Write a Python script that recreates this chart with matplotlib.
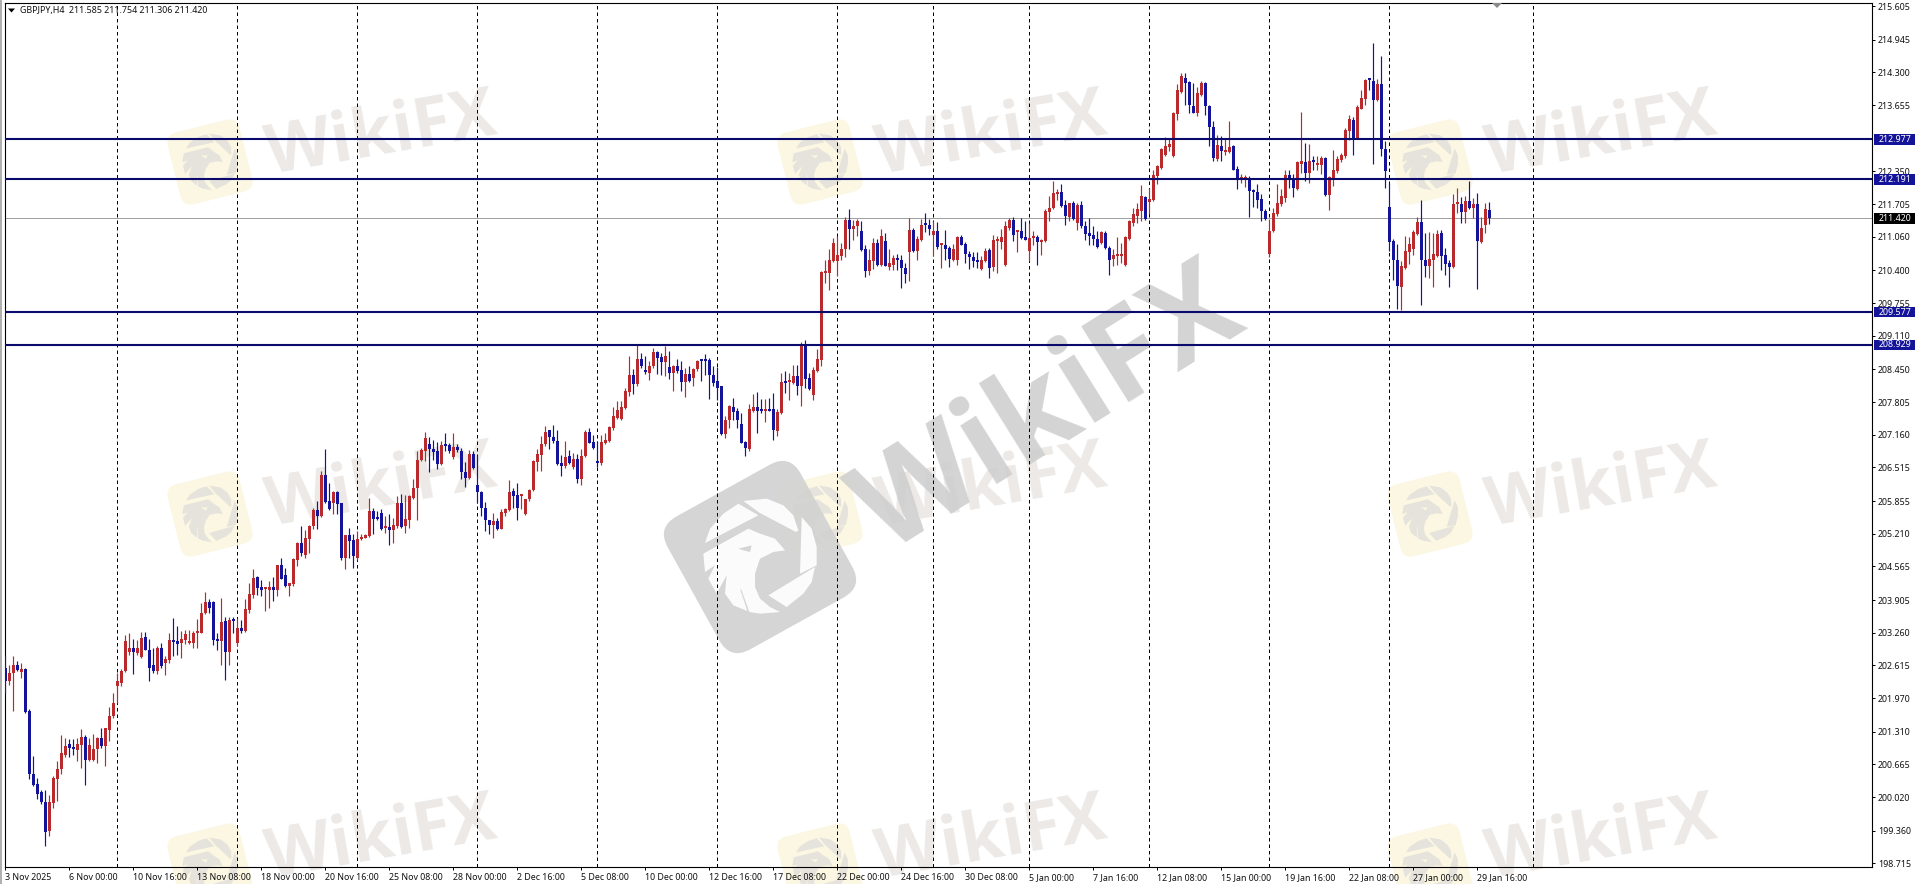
import matplotlib
matplotlib.use("Agg")
import matplotlib.pyplot as plt
from matplotlib.patches import FancyBboxPatch, Polygon, Rectangle
from matplotlib.transforms import Affine2D, blended_transform_factory

# GBPJPY H4 candles, ten bars per row
opens = [
    202.57,202.31,202.47,202.63,202.48,202.55,201.72,200.48,200.29,200.13,
    199.92,199.35,199.91,200.38,200.57,200.86,201.06,200.98,200.96,201.04,
    201.21,200.76,200.76,200.97,201.18,201.03,201.35,201.62,202.21,202.27,
    202.50,202.88,202.96,202.87,202.79,203.17,202.93,202.62,202.50,202.96,
    202.67,202.73,203.10,203.09,203.05,203.11,203.05,203.05,203.25,203.26,
    203.64,203.87,203.87,203.13,203.09,203.49,202.88,203.52,203.06,203.36,
    203.29,203.71,204.01,204.35,204.16,204.13,204.10,204.16,204.10,204.60,
    204.40,204.19,204.23,204.70,205.02,204.80,205.10,205.36,205.67,205.56,
    206.36,205.85,205.82,206.03,205.81,204.74,205.18,205.08,204.74,205.10,
    205.13,205.16,205.65,205.52,205.61,205.33,205.35,205.28,205.36,205.81,
    205.37,205.49,205.92,206.11,206.66,206.84,206.97,206.88,206.84,206.59,
    206.95,206.95,206.73,206.92,206.84,206.42,206.31,206.78,206.18,206.03,
    205.72,205.49,205.39,205.46,205.31,205.61,205.67,206.05,205.98,205.95,
    205.59,205.89,206.07,206.62,206.77,206.97,207.25,207.12,207.04,206.61,
    206.54,206.75,206.52,206.69,206.29,206.74,207.21,207.01,206.63,206.60,
    207.00,207.03,207.30,207.49,207.47,207.69,208.00,208.33,208.15,208.66,
    208.43,208.38,208.51,208.79,208.69,208.59,208.50,208.38,208.52,208.43,
    208.20,208.35,208.28,208.45,208.63,208.63,208.64,208.33,208.21,208.12,
    207.17,207.45,207.71,207.62,207.38,207.02,206.88,207.63,207.71,207.64,
    207.63,207.66,207.66,207.23,207.58,208.21,208.20,208.17,208.31,208.13,
    208.94,208.27,207.95,208.41,208.64,210.35,210.35,210.58,210.59,210.68,
    210.81,211.39,211.22,211.27,211.18,210.81,210.38,210.58,210.93,210.51,
    210.97,210.47,210.51,210.65,210.61,210.45,210.76,211.19,210.78,211.00,
    211.32,211.30,211.10,211.18,210.89,210.89,210.84,210.61,210.61,211.06,
    210.91,210.73,210.66,210.59,210.42,210.58,210.80,210.47,210.97,210.95,
    210.51,211.24,211.39,211.15,211.17,211.06,210.78,211.04,211.06,210.96,
    210.97,211.54,211.63,211.91,211.95,211.68,211.45,211.73,211.33,211.68,
    211.27,211.14,211.09,211.02,210.93,211.14,210.84,210.62,210.68,210.68,
    210.51,211.02,211.34,211.47,211.56,211.85,211.74,211.78,212.25,212.42,
    212.68,212.83,212.65,213.47,213.91,214.19,214.10,213.64,213.49,213.86,
    214.09,213.64,213.22,212.59,212.84,212.73,212.73,212.84,212.40,212.20,
    212.20,212.22,211.98,211.95,211.81,211.57,210.73,211.17,211.50,211.70,
    211.83,212.27,212.20,212.00,212.50,212.53,212.31,212.55,212.48,212.48,
    212.61,211.88,212.22,212.35,212.57,212.65,213.14,213.36,213.01,213.58,
    213.78,214.16,214.12,213.76,214.06,212.79,211.65,210.97,210.61,210.07,
    210.45,210.75,210.81,211.12,211.35,210.61,210.48,210.61,210.69,211.14,
    210.71,210.55,210.47,211.70,211.70,211.54,211.76,211.63,211.70,210.95,211.30,211.585,
]
highs = [
    202.80,202.63,202.81,202.70,202.67,202.57,201.76,200.84,200.40,200.17,
    200.17,200.07,200.44,200.73,201.24,201.19,201.17,201.16,201.19,201.37,
    201.24,201.19,201.26,201.21,201.39,201.39,201.80,202.08,202.47,202.54,
    203.21,203.26,203.13,203.11,203.28,203.27,203.13,202.96,203.00,203.06,
    202.80,203.26,203.55,203.40,203.29,203.31,203.31,203.29,203.53,203.84,
    204.06,203.93,203.88,203.26,203.95,203.57,203.57,203.57,203.55,203.52,
    203.92,204.24,204.52,204.37,204.30,204.16,204.28,204.36,204.60,204.74,
    204.54,204.24,204.74,205.04,205.36,205.29,205.39,205.72,205.85,206.44,
    206.87,206.21,206.05,206.05,205.82,205.18,205.33,205.20,205.26,205.20,
    205.20,205.92,205.72,205.65,205.70,205.56,205.59,205.52,205.96,206.00,
    205.98,205.98,206.28,206.84,206.90,207.21,207.12,207.05,207.01,207.03,
    207.20,207.00,207.20,206.97,206.90,206.62,206.86,206.84,206.77,206.05,
    205.83,205.49,205.62,205.52,205.69,205.72,206.27,206.11,206.20,205.98,
    205.89,206.09,206.67,206.87,207.13,207.34,207.26,207.36,207.26,206.77,
    207.03,206.86,206.80,206.79,206.87,207.26,207.30,207.15,207.03,207.16,
    207.20,207.33,207.71,207.82,207.82,208.08,208.72,208.45,208.92,208.77,
    208.71,208.61,208.87,208.81,208.77,208.90,208.81,208.54,208.66,208.61,
    208.48,208.51,208.48,208.63,208.63,208.75,208.67,208.51,208.50,208.13,
    207.53,207.74,207.89,207.69,207.59,207.03,207.76,207.97,208.00,207.87,
    207.87,207.89,207.98,207.67,208.38,208.41,208.37,208.54,208.54,208.98,
    209.02,208.38,208.50,208.85,210.38,210.61,210.81,211.04,211.07,210.93,
    211.45,211.61,211.39,211.40,211.37,210.89,210.82,211.04,211.01,211.22,
    211.14,210.81,210.71,210.73,210.71,210.55,211.43,211.24,211.07,211.41,
    211.52,211.41,211.37,211.35,210.91,211.19,210.87,210.91,211.07,211.10,
    210.95,210.78,210.76,210.76,210.68,210.84,210.84,211.09,211.07,211.22,
    211.37,211.43,211.45,211.20,211.43,211.37,211.33,211.17,211.10,211.02,
    211.61,211.86,212.15,212.00,212.09,211.79,211.73,211.76,211.73,211.76,
    211.37,211.43,211.27,211.17,211.17,211.17,210.87,210.82,211.06,210.94,
    211.07,211.39,211.63,211.73,212.07,211.86,212.02,212.37,212.48,212.81,
    213.03,213.01,213.51,214.06,214.29,214.29,214.12,214.09,214.01,214.12,
    214.10,213.66,213.34,213.07,213.05,213.01,213.34,212.86,212.46,212.30,
    212.28,212.25,212.00,212.09,211.91,211.60,211.40,211.63,212.09,212.00,
    212.37,212.37,212.29,212.55,213.51,212.91,212.88,212.65,212.66,212.65,
    212.63,212.25,212.77,212.65,212.70,213.20,213.45,213.42,213.66,213.96,
    214.16,214.17,214.87,214.16,214.63,212.94,212.12,211.02,210.91,210.58,
    211.07,211.06,211.20,211.45,211.78,211.14,211.15,211.14,211.20,211.19,
    210.84,210.61,211.91,212.02,211.85,211.86,212.15,211.83,211.92,211.45,211.73,211.754,
]
lows = [
    202.08,202.24,201.72,202.50,202.37,201.68,200.37,200.24,199.98,199.88,
    199.06,199.25,199.81,199.94,200.47,200.82,200.82,200.86,200.73,200.60,
    200.27,200.73,200.73,200.70,200.99,200.63,201.12,201.58,201.88,202.21,
    202.48,202.83,202.44,202.83,202.77,202.92,202.31,202.47,202.44,202.57,
    202.43,202.67,202.80,202.83,202.77,203.03,203.03,202.96,202.96,203.26,
    203.62,203.65,203.01,202.93,202.62,202.33,202.63,203.26,203.00,203.26,
    203.28,203.65,203.95,204.01,203.98,203.69,203.75,203.88,203.98,204.31,
    204.17,203.98,204.19,204.57,204.77,204.74,204.83,205.30,205.30,205.54,
    205.82,205.67,205.59,205.59,204.70,204.51,204.74,204.54,204.70,205.08,
    205.12,205.15,205.20,205.49,205.28,205.23,204.98,205.02,205.33,205.33,
    205.23,205.33,205.89,205.49,206.64,206.64,206.42,206.67,206.48,206.57,
    206.84,206.80,206.69,206.83,206.28,206.13,206.29,206.49,205.82,205.56,
    205.26,205.20,205.13,205.28,205.30,205.56,205.65,205.72,205.48,205.69,
    205.57,205.85,206.05,206.44,206.44,206.93,206.87,206.99,206.57,206.34,
    206.51,206.59,206.48,206.20,206.18,206.72,206.99,206.88,206.53,206.57,
    206.97,207.01,207.26,207.47,207.46,207.66,207.93,207.97,208.13,208.48,
    208.35,208.23,208.48,208.35,208.33,208.31,208.26,208.02,208.38,208.02,
    207.91,208.20,208.12,208.41,208.22,208.33,207.87,208.12,207.85,207.15,
    207.10,207.30,207.46,207.30,206.99,206.75,206.84,207.60,207.20,207.59,
    207.41,207.63,207.05,207.13,207.56,207.99,207.85,208.15,207.95,207.72,
    208.08,208.05,207.85,208.39,208.52,210.15,210.02,210.56,210.28,210.61,
    210.66,210.82,211.00,211.07,210.78,210.27,210.30,210.43,210.49,210.49,
    210.48,210.40,210.40,210.41,210.05,210.14,210.19,210.76,210.61,210.97,
    211.15,211.10,210.68,210.81,210.45,210.61,210.47,210.58,210.51,210.89,
    210.55,210.43,210.47,210.45,210.40,210.56,210.25,210.38,210.35,210.82,
    210.48,211.20,210.97,210.76,211.02,210.99,210.58,210.90,210.51,210.71,
    210.95,211.37,211.60,211.79,211.65,211.30,211.37,211.39,211.20,211.24,
    211.00,210.89,210.89,210.84,210.91,210.81,210.30,210.48,210.51,210.55,
    210.49,211.00,211.28,211.34,211.37,211.39,211.50,211.76,212.09,212.40,
    212.65,212.75,212.63,213.36,213.90,213.66,213.50,213.49,213.43,213.84,
    213.45,212.84,212.55,212.55,212.55,212.68,212.71,212.37,212.00,212.12,
    212.04,211.45,211.65,211.63,211.37,211.39,210.67,211.15,211.47,211.66,
    211.74,212.02,211.85,211.99,212.32,212.15,212.11,212.37,212.37,212.29,
    211.87,211.58,212.06,212.32,212.53,212.61,212.96,212.68,212.99,213.57,
    213.66,213.96,212.50,213.73,212.65,212.02,210.78,210.20,209.63,209.61,
    210.42,210.53,210.71,211.10,209.72,210.27,210.25,210.07,210.67,210.40,
    210.30,210.07,210.45,211.52,211.33,211.33,211.60,211.43,210.03,210.93,211.14,211.306,
]
closes = [
    202.31,202.47,202.63,202.52,202.55,201.70,200.47,200.27,200.09,199.92,
    199.33,199.92,200.40,200.57,200.89,201.03,200.99,200.97,201.06,201.21,
    200.76,201.04,200.97,201.18,201.03,201.38,201.63,201.88,202.31,202.50,
    203.09,202.96,202.88,202.96,203.16,202.93,202.57,202.50,202.96,202.60,
    202.75,203.11,203.07,203.04,203.13,203.23,203.07,203.26,203.28,203.65,
    203.86,203.75,203.11,203.09,203.48,202.88,203.52,203.49,203.36,203.29,
    203.72,204.03,204.34,204.15,204.10,204.15,204.16,204.10,204.59,204.32,
    204.19,204.24,204.72,205.03,204.83,205.13,205.37,205.67,205.56,206.36,
    205.83,205.69,206.03,205.79,204.74,205.18,205.06,204.77,205.11,205.15,
    205.18,205.65,205.51,205.50,205.31,205.36,205.28,205.39,205.81,205.35,
    205.51,205.95,206.11,206.67,206.86,207.10,206.87,206.82,206.59,206.95,
    206.93,206.84,206.92,206.86,206.42,206.31,206.78,206.51,206.03,205.72,
    205.48,205.39,205.46,205.30,205.63,205.69,206.04,205.96,205.72,205.97,
    205.89,206.08,206.64,206.79,206.97,207.21,207.12,207.03,206.59,206.54,
    206.73,206.61,206.69,206.29,206.75,207.21,207.00,206.90,206.60,207.01,
    207.05,207.31,207.53,207.64,207.71,208.02,208.33,208.15,208.66,208.51,
    208.40,208.52,208.79,208.68,208.59,208.72,208.37,208.52,208.41,208.20,
    208.35,208.22,208.46,208.62,208.61,208.62,208.33,208.18,208.08,207.17,
    207.46,207.72,207.60,207.45,207.00,206.89,207.66,207.71,207.63,207.62,
    207.66,207.63,207.25,207.60,208.20,208.18,208.22,208.31,208.13,208.94,
    208.26,208.06,208.43,208.66,210.36,210.38,210.61,210.93,210.71,210.82,
    211.39,211.22,211.28,211.37,210.79,210.38,210.60,210.93,210.51,211.08,
    210.49,210.55,210.65,210.61,210.45,210.32,211.19,210.78,211.01,211.30,
    211.29,211.22,211.17,210.86,210.91,210.82,210.63,210.81,211.05,210.90,
    210.73,210.66,210.58,210.56,210.60,210.78,210.45,211.00,210.99,211.06,
    211.27,211.39,211.10,211.17,211.04,211.00,211.04,211.06,210.95,211.00,
    211.56,211.63,211.93,211.95,211.66,211.47,211.72,211.40,211.68,211.27,
    211.12,211.07,211.02,210.86,211.15,210.84,210.61,210.71,210.71,210.73,
    211.06,211.37,211.50,211.60,211.86,211.40,211.81,212.27,212.45,212.79,
    212.84,212.88,213.49,213.95,214.22,214.08,213.66,213.49,213.89,214.09,
    213.64,213.22,212.61,212.86,212.75,212.76,212.83,212.38,212.22,212.22,
    212.21,211.96,211.94,211.79,211.56,211.41,211.18,211.53,211.73,211.86,
    212.27,212.20,212.02,212.53,212.55,212.32,212.55,212.53,212.50,212.61,
    211.88,212.24,212.37,212.60,212.68,213.16,213.38,213.01,213.62,213.80,
    214.14,214.14,213.76,214.06,212.78,212.35,210.95,210.61,210.09,210.48,
    210.78,210.91,211.15,211.35,210.61,210.49,210.62,210.73,211.12,210.69,
    210.53,210.47,211.71,211.73,211.54,211.76,211.63,211.70,210.97,211.23,211.60,211.420,
]
assert len(opens) == len(highs) == len(lows) == len(closes)

# bars where the period separators sit
separator_bars = [28, 58, 88, 118, 148, 178, 208, 232, 256, 286, 316, 346, 382]

level_prices = [212.977, 212.191, 209.577, 208.929]
last_price = 211.420

price_ticks = [
    "215.605", "214.945", "214.300", "213.655", "212.350", "211.705", "211.060",
    "210.400", "209.755", "209.110", "208.450", "207.805", "207.160", "206.515",
    "205.855", "205.210", "204.565", "203.905", "203.260", "202.615", "201.970",
    "201.310", "200.665", "200.020", "199.360", "198.715",
]
time_labels = [
    "3 Nov 2025", "6 Nov 00:00", "10 Nov 16:00", "13 Nov 08:00", "18 Nov 00:00",
    "20 Nov 16:00", "25 Nov 08:00", "28 Nov 00:00", "2 Dec 16:00", "5 Dec 08:00",
    "10 Dec 00:00", "12 Dec 16:00", "17 Dec 08:00", "22 Dec 00:00", "24 Dec 16:00",
    "30 Dec 08:00", "5 Jan 00:00", "7 Jan 16:00", "12 Jan 08:00", "15 Jan 00:00",
    "19 Jan 16:00", "22 Jan 08:00", "27 Jan 00:00", "29 Jan 16:00",
]
time_label_step = 16

W, H = 1917, 884
BLUE = "#14149a"
RED = "#b82a2c"
NAVY = "#0a0a6c"
LABEL_FONT = "Noto Sans"

EAGLE_PARTS = [
    [(135, 278), (150, 235), (190, 190), (235, 160), (295, 195)],
    [(250, 152), (320, 145), (370, 165), (400, 195), (415, 240), (408, 245), (300, 188)],
    [(130, 310), (265, 235), (300, 250), (345, 265), (375, 300), (340, 305), (300, 325),
     (285, 370), (285, 410), (300, 445), (330, 470), (360, 485), (300, 490), (268, 485),
     (245, 420), (240, 415), (262, 482), (220, 465), (195, 430), (200, 375), (170, 430),
     (145, 385), (165, 345), (135, 365)],
    [(325, 435), (465, 350), (455, 395), (430, 430), (380, 470)],
    [(425, 200), (455, 235), (470, 290), (470, 345), (420, 370)],
]
EAGLE_EYE = [(235, 295), (275, 285), (270, 305), (250, 300)]

fig = plt.figure(figsize=(W / 100, H / 100), dpi=100, facecolor="white")


def logo(bg, cx, cy, half, angle, face, mark, alpha=1.0):
    box_tr = Affine2D().scale(half).rotate_deg(-angle).translate(cx, cy) + bg.transData
    bg.add_patch(FancyBboxPatch((-0.72, -0.72), 1.44, 1.44,
                                boxstyle="round,pad=0.28,rounding_size=0.3",
                                fc=face, ec="none", alpha=alpha, transform=box_tr))
    # the outline is already drawn at 29 degrees
    mark_tr = Affine2D().scale(half / 228).rotate_deg(29 - angle).translate(cx, cy) + bg.transData
    for part in EAGLE_PARTS:
        pts = [(x - 300, y - 320) for x, y in part]
        bg.add_patch(Polygon(pts, closed=True, fc=mark, ec="none", alpha=alpha, transform=mark_tr))
    pts = [(x - 300, y - 320) for x, y in EAGLE_EYE]
    bg.add_patch(Polygon(pts, closed=True, fc=face, ec="none", alpha=alpha, transform=mark_tr))


# watermark sits on its own axes under the chart, in picture pixels
bg = fig.add_axes([0, 0, 1, 1], zorder=0)
bg.set_xlim(0, W)
bg.set_ylim(H, 0)
bg.axis("off")
bg.add_patch(Rectangle((0, 0), 2, H, fc="#b0b0b0", ec="none"))

for row_y in (0, 352, 704):
    for col_x in (0, 610, 1220):
        logo(bg, 210 + col_x, 162 + row_y, 37, 14, "#fcf7e2", "#e6e3dc")
        bg.text(381 + col_x, 136 + row_y, "WikiFX", fontsize=49, family="Open Sans",
                weight="bold", color="#ece9e6", rotation=10, ha="center", va="center",
                rotation_mode="anchor")

logo(bg, 760, 557, 76, 29, "#d2d2d2", "#ffffff", alpha=0.92)
bg.text(1050, 413, "WikiFX", fontsize=90, family="Open Sans", weight="bold",
        color="#cfcfcf", alpha=0.9, rotation=32, ha="center", va="center",
        rotation_mode="anchor")

# main chart, 1 bar = 4 pixels
ax = fig.add_axes([4.5 / W, (H - 867) / H, (1872 - 4.5) / W, (867 - 2.5) / H], zorder=1)
ax.patch.set_visible(False)
ax.set_xlim(-0.21, 466.67)
ax.set_ylim(198.646, 215.674)

bars = list(range(len(opens)))
colors = [RED if c > o else BLUE for o, c in zip(opens, closes)]
for x in separator_bars:
    ax.axvline(x, color="black", lw=0.72, ls=(0, (3.5, 3)), zorder=1)
for p in level_prices:
    ax.axhline(p, color=NAVY, lw=1.5, zorder=4)
ax.axhline(last_price, color="#a0a0a0", lw=0.72, zorder=2)

ax.vlines(bars, lows, highs, colors=colors, lw=0.85, zorder=3)
bottoms = [min(o, c) for o, c in zip(opens, closes)]
heights = [max(abs(c - o), 0.04) for o, c in zip(opens, closes)]
ax.bar(bars, heights, bottom=bottoms, width=0.72, color=colors, lw=0, zorder=3)

ax.yaxis.tick_right()
ax.set_yticks([float(t) for t in price_ticks])
ax.set_yticklabels(price_ticks, fontsize=6.4, family=LABEL_FONT, color="#111111")
ax.tick_params(axis="y", length=2.2, width=0.72, pad=2.2)
ax.set_xticks([i * time_label_step for i in range(len(time_labels))])
ax.set_xticklabels(time_labels, fontsize=6.4, family=LABEL_FONT, color="#111111", ha="left")
ax.tick_params(axis="x", length=2.2, width=0.72, pad=2.2)
for spine in ax.spines.values():
    spine.set_linewidth(0.8)
    spine.set_color("black")

# price tags on the right axis
tag_tr = blended_transform_factory(ax.transAxes, ax.transData)
tag_w = 41 / (1872 - 4.5)
tag_h = 10.5 / 50.77
for p, tag_color in [(v, BLUE) for v in level_prices] + [(last_price, "black")]:
    ax.add_patch(Rectangle((1.0012, p - tag_h / 2), tag_w, tag_h, fc=tag_color, ec="none",
                           transform=tag_tr, clip_on=False, zorder=6))
    ax.text(1.0033, p, f"{p:.3f}", transform=tag_tr, color="white", fontsize=6.4,
            family=LABEL_FONT, va="center", ha="left", zorder=7)

# header text and markers
bg_top = fig.add_axes([0, 0, 1, 1], zorder=2)
bg_top.set_xlim(0, W)
bg_top.set_ylim(H, 0)
bg_top.axis("off")
bg_top.add_patch(Polygon([(8, 8.5), (15, 8.5), (11.5, 12.5)], fc="black", ec="none"))
bg_top.add_patch(Polygon([(1492, 3), (1502, 3), (1497, 8)], fc="#8a8a8a", ec="none"))
bg_top.text(20, 10.5, "GBPJPY,H4  211.585 211.754 211.306 211.420", fontsize=6.4,
            family=LABEL_FONT, color="#111111", va="center", ha="left")

fig.savefig("out.png", dpi=100)
